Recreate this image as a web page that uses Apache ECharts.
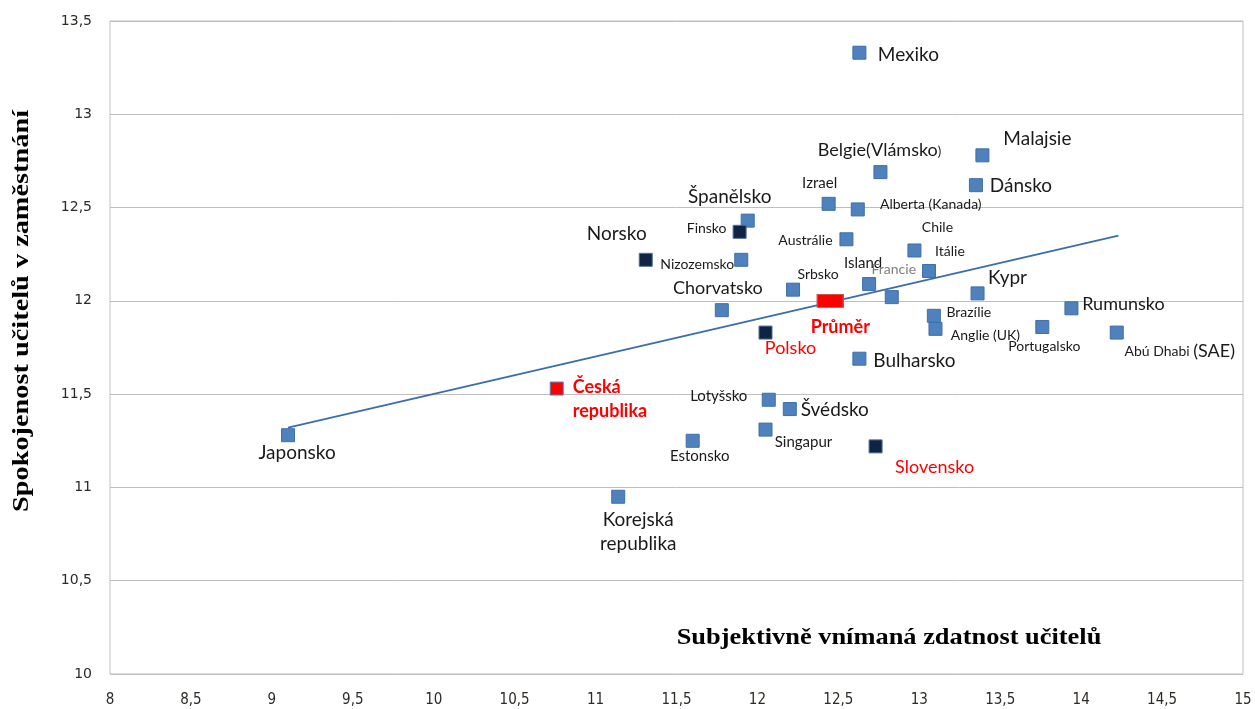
<!DOCTYPE html>
<html><head><meta charset="utf-8">
<script src="https://cdn.jsdelivr.net/npm/echarts@6/dist/echarts.min.js"></script>
<style>html,body{margin:0;padding:0;background:#fff}#c{width:1255px;height:709px}</style>
</head><body><div id="c"></div>
<script>
// ---- data ----
const blueNames = ['Mexiko','Malajsie','Belgie(Vlámsko)','Dánsko','Izrael','Alberta (Kanada)','Španělsko','Austrálie','Nizozemsko','Chile','Itálie','Island','Francie','Srbsko','Kypr','Rumunsko','Brazílie','Anglie (UK)','Portugalsko','Abú Dhabi (SAE)','Bulharsko','Chorvatsko','Lotyšsko','Švédsko','Singapur','Estonsko','Japonsko','Korejská republika'];
const blueX = [12.63,13.39,12.76,13.35,12.44,12.62,11.94,12.55,11.90,12.97,13.06,12.69,12.83,12.22,13.36,13.94,13.09,13.10,13.76,14.22,12.63,11.78,12.07,12.20,12.05,11.60,9.10,11.14];
const blueY = [13.33,12.78,12.69,12.62,12.52,12.49,12.43,12.33,12.22,12.27,12.16,12.09,12.02,12.06,12.04,11.96,11.92,11.85,11.86,11.83,11.69,11.95,11.47,11.42,11.31,11.25,11.28,10.95];
const darkNames = ['Finsko','Norsko','Polsko','Slovensko'];
const darkX = [11.89,11.31,12.05,12.73];
const darkY = [12.37,12.22,11.83,11.22];
const czNames = ['Česká republika'];
const czX = [10.76];
const czY = [11.53];
const avgNames = ['Průměr'];
const avgX = [12.45];
const avgY = [12.00];
const trendX = [9.10, 14.23];
const trendY = [11.32, 12.35];
const xTicks = {min: 8, max: 15, step: 0.5};
const yTicks = {min: 10, max: 13.5, step: 0.5};
const xTitle = 'Subjektivně vnímaná zdatnost učitelů';
const yTitle = 'Spokojenost učitelů v zaměstnání';

// ---- label layout (offset from marker centre, font size) ----
const labelLayout = {
  'Mexiko':[49,2,19], 'Malajsie':[55,-16,19], 'Belgie(Vlámsko)':[-1,-22,18], 'Dánsko':[45,1,19],
  'Izrael':[-9,-21,15], 'Alberta (Kanada)':[73,-5,14], 'Španělsko':[-18,-24,19], 'Austrálie':[-41,1,14],
  'Nizozemsko':[-44,5,14], 'Chile':[23,-23,14], 'Itálie':[21,-20,14], 'Island':[-6,-21,15],
  'Francie':[2,-28,14], 'Srbsko':[25,-15,14], 'Kypr':[30,-16,19], 'Rumunsko':[52,-4,18],
  'Brazílie':[35,-3,14], 'Anglie (UK)':[50,7,14], 'Portugalsko':[2,20,14], 'Abú Dhabi (SAE)':[63,19,14],
  'Bulharsko':[55,2,19], 'Chorvatsko':[-4,-22,18], 'Lotyšsko':[-50,-4,15], 'Švédsko':[45,1,19],
  'Singapur':[38,13,15], 'Estonsko':[7,15,15], 'Japonsko':[9,18,19], 'Korejská republika':[20,35,19],
  'Finsko':[-33,-3,14], 'Norsko':[-29,-26,19], 'Polsko':[25,16,18], 'Slovensko':[59,21,18],
  'Česká republika':[16,11,18], 'Průměr':[10,26,18]
};
const labelColor = {'Francie':'#7f7f7f','Polsko':'#ff0000','Slovensko':'#ff0000','Česká republika':'#ff0000','Průměr':'#ff0000'};
const labelBold = {'Česká republika':true,'Průměr':true};
const FONT = 'Lato, "Open Sans", sans-serif';

function labelText(n){
  if (n === 'Belgie(Vlámsko)') return '{a|Belgie(Vlámsko}{s|)}';
  if (n === 'Abú Dhabi (SAE)') return '{a|Abú Dhabi }{b|(SAE)}';
  return n.replace(' republika', '\nrepublika');
}

function makeData(names, xs, ys){
  return names.map((n, i) => {
    const L = labelLayout[n] || [0,0,14];
    const isCz = n === 'Česká republika';
    return {
      name: n,
      value: [xs[i], ys[i]],
      label: {
        show: true, position: 'inside', offset: [L[0], L[1]],
        formatter: () => labelText(n),
        fontSize: L[2], fontFamily: FONT,
        color: labelColor[n] || '#1a1a1a',
        fontWeight: labelBold[n] ? 'bold' : 'normal',
        align: isCz ? 'left' : 'center',
        lineHeight: 24,
        rich: {
          a: {fontSize: L[2], fontFamily: FONT, color: '#1a1a1a'},
          s: {fontSize: 13, fontFamily: FONT, color: '#1a1a1a', padding: [3,0,0,0]},
          b: {fontSize: 18, fontFamily: FONT, color: '#1a1a1a'}
        }
      }
    };
  });
}

const chart = echarts.init(document.getElementById('c'), null, {renderer: 'canvas'});
const comma = v => String(v).replace('.', ',');

chart.setOption({
  animation: false,
  backgroundColor: '#ffffff',
  grid: {left: 110, top: 21, width: 1133, height: 653, show: true, borderColor: '#bfbfbf', borderWidth: 1, backgroundColor: 'transparent'},
  xAxis: {
    type: 'value', min: xTicks.min, max: xTicks.max, interval: xTicks.step,
    axisLine: {show: false}, axisTick: {show: false}, splitLine: {show: false},
    axisLabel: {formatter: comma, margin: 19, fontSize: 15, color: '#2e2a26', fontFamily: '"DejaVu Sans Condensed", "DejaVu Sans", sans-serif'}
  },
  yAxis: {
    type: 'value', min: yTicks.min, max: yTicks.max, interval: yTicks.step,
    axisLine: {show: false}, axisTick: {show: false},
    splitLine: {show: true, lineStyle: {color: '#bfbfbf', width: 1}},
    axisLabel: {formatter: comma, margin: 18, fontSize: 14, color: '#2e2a26', fontFamily: '"DejaVu Sans", sans-serif'}
  },
  graphic: [
    {type: 'text', x: 22, y: 311, rotation: Math.PI / 2, scaleX: 1.18, z: 10,
     style: {text: yTitle, font: 'bold 24px "Liberation Serif", "DejaVu Serif", serif', fill: '#000', textAlign: 'center', textVerticalAlign: 'middle'}},
    {type: 'text', x: 889, y: 638, scaleX: 1.1, z: 10,
     style: {text: xTitle, font: 'bold 24px "Liberation Serif", "DejaVu Serif", serif', fill: '#000', textAlign: 'center', textVerticalAlign: 'middle'}}
  ],
  series: [
    {type: 'line', data: trendX.map((x, i) => [x, trendY[i]]), symbol: 'none', silent: true,
     lineStyle: {color: '#3b6ea8', width: 1.8}, z: 1},
    {type: 'scatter', symbol: 'rect', symbolSize: 13, data: makeData(blueNames, blueX, blueY),
     itemStyle: {color: '#4f81bd', borderColor: '#3f6fa8', borderWidth: 1, opacity: 1}, z: 3},
    {type: 'scatter', symbol: 'rect', symbolSize: 13, data: makeData(darkNames, darkX, darkY),
     itemStyle: {color: '#0f2342', borderColor: '#4f6f98', borderWidth: 1, opacity: 1}, z: 3},
    {type: 'scatter', symbol: 'rect', symbolSize: 13, data: makeData(czNames, czX, czY),
     itemStyle: {color: '#ff0000', borderColor: '#4f81bd', borderWidth: 1, opacity: 1}, z: 3},
    {type: 'scatter', symbol: 'rect', symbolSize: [26, 13], data: makeData(avgNames, avgX, avgY),
     itemStyle: {color: '#ff0000', borderColor: '#c0504d', borderWidth: 1, opacity: 1}, z: 3}
  ]
});
</script></body></html>
